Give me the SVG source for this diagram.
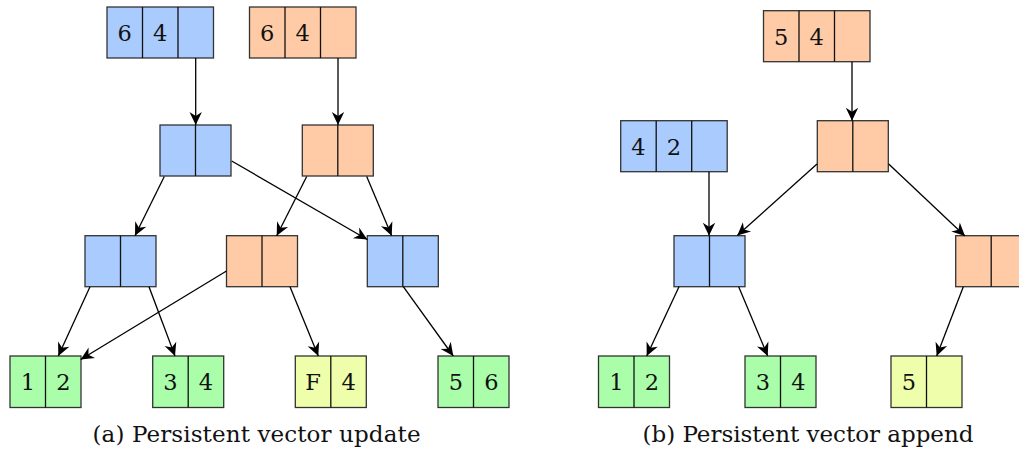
<svg xmlns="http://www.w3.org/2000/svg" width="1019" height="459" viewBox="0 0 1019 459">
<style>
.b{fill:#a9cbfe}.o{fill:#fecba6}.g{fill:#aafeaa}.y{fill:#eefeaa}
rect{stroke:#333;stroke-width:1.3}
.d{stroke:#111;stroke-width:1.3}
text{font-family:"DejaVu Serif","Liberation Serif",serif;font-size:22.5px;fill:#111;text-anchor:middle}
.e{fill:none;stroke:#000;stroke-width:1.3;marker-end:url(#ah)}
</style>
<defs>
<marker id="ah" markerUnits="userSpaceOnUse" markerWidth="16" markerHeight="14" viewBox="-14 -7 15 14" refX="0" refY="0" orient="auto">
<path d="M0,0 L-13,-6.2 L-9,0 L-13,6.2 Z" fill="#000"/>
</marker>
</defs>
<rect width="1019" height="459" fill="#fff" style="stroke:none"/>
<!-- Left panel -->
<g id="a_top_blue"><rect class="b" x="107" y="7" width="106.5" height="51"/><path class="d" d="M142.5,7V58M178,7V58"/><text x="124.7" y="40.8">6</text><text x="160.2" y="40.8">4</text></g>
<g id="a_top_orange"><rect class="o" x="249.5" y="7" width="106.5" height="51"/><path class="d" d="M285,7V58M320.5,7V58"/><text x="267.2" y="40.8">6</text><text x="302.7" y="40.8">4</text></g>
<g id="a_mid_blue"><rect class="b" x="160" y="125" width="71" height="51"/><path class="d" d="M195.5,125V176"/></g>
<g id="a_mid_orange"><rect class="o" x="302.3" y="125" width="71" height="51"/><path class="d" d="M337.8,125V176"/></g>
<g id="a_low_blue_l"><rect class="b" x="85" y="235.7" width="71" height="51"/><path class="d" d="M120.5,235.7V286.7"/></g>
<g id="a_low_orange"><rect class="o" x="226.5" y="235.7" width="71" height="51"/><path class="d" d="M262,235.7V286.7"/></g>
<g id="a_low_blue_r"><rect class="b" x="367.3" y="235.7" width="71" height="51"/><path class="d" d="M402.8,235.7V286.7"/></g>
<g id="a_leaf_12"><rect class="g" x="10" y="356" width="71" height="51.5"/><path class="d" d="M45.5,356V407.5"/><text x="27.8" y="390.3">1</text><text x="63.3" y="390.3">2</text></g>
<g id="a_leaf_34"><rect class="g" x="152.7" y="356" width="71" height="51.5"/><path class="d" d="M188.2,356V407.5"/><text x="170.5" y="390.3">3</text><text x="206" y="390.3">4</text></g>
<g id="a_leaf_F4"><rect class="y" x="295.3" y="356" width="71" height="51.5"/><path class="d" d="M330.8,356V407.5"/><text x="313.1" y="390.3">F</text><text x="348.6" y="390.3">4</text></g>
<g id="a_leaf_56"><rect class="g" x="438" y="356" width="71" height="51.5"/><path class="d" d="M473.5,356V407.5"/><text x="455.8" y="390.3">5</text><text x="491.3" y="390.3">6</text></g>
<!-- Right panel -->
<g id="b_top_orange"><rect class="o" x="763.5" y="10.7" width="106.5" height="51"/><path class="d" d="M799,10.7V61.7M834.5,10.7V61.7"/><text x="781.2" y="44.5">5</text><text x="816.7" y="44.5">4</text></g>
<g id="b_mid_orange"><rect class="o" x="817.3" y="120.7" width="71" height="51"/><path class="d" d="M852.8,120.7V171.7"/></g>
<g id="b_blue_42"><rect class="b" x="620.7" y="120.7" width="106.5" height="51"/><path class="d" d="M656.2,120.7V171.7M691.7,120.7V171.7"/><text x="638.4" y="154.5">4</text><text x="673.9" y="154.5">2</text></g>
<g id="b_low_blue"><rect class="b" x="674" y="235.7" width="71" height="51"/><path class="d" d="M709.5,235.7V286.7"/></g>
<g id="b_low_orange"><rect class="o" x="955.7" y="235.7" width="71" height="51"/><path class="d" d="M991.2,235.7V286.7"/></g>
<g id="b_leaf_12"><rect class="g" x="598.5" y="356" width="71" height="51.5"/><path class="d" d="M634,356V407.5"/><text x="616.3" y="390.3">1</text><text x="651.8" y="390.3">2</text></g>
<g id="b_leaf_34"><rect class="g" x="745" y="356" width="71" height="51.5"/><path class="d" d="M780.5,356V407.5"/><text x="762.8" y="390.3">3</text><text x="798.3" y="390.3">4</text></g>
<g id="b_leaf_5"><rect class="y" x="891" y="356" width="71" height="51.5"/><path class="d" d="M926.5,356V407.5"/><text x="908.8" y="390.3">5</text></g>
<g id="connectors">
<path class="e" d="M195.7,58L195.7,125"/>
<path class="e" d="M338,58L338,125"/>
<path class="e" d="M164.3,176.5L135,235.7"/>
<path class="e" d="M231.7,161L367.3,239.5"/>
<path class="e" d="M306.7,176.5L276.7,235.7"/>
<path class="e" d="M366.7,176.5L391.7,235.7"/>
<path class="e" d="M90,286.7L58.3,356"/>
<path class="e" d="M149,286.7L175,356"/>
<path class="e" d="M226.5,271L80.7,359.5"/>
<path class="e" d="M290,286.7L318.3,356"/>
<path class="e" d="M403.3,286.7L453.3,356"/>
<path class="e" d="M852,61.7L852,120.7"/>
<path class="e" d="M709,171.7L709,235.7"/>
<path class="e" d="M817,164L737.3,235.5"/>
<path class="e" d="M888.7,164L965,236"/>
<path class="e" d="M679,286.7L646.7,356"/>
<path class="e" d="M738.7,286.7L767.7,356"/>
<path class="e" d="M963.3,286.7L936.7,356"/>
</g>
<text x="256.5" y="441.5" style="font-size:23px" textLength="328" lengthAdjust="spacing">(a) Persistent vector update</text>
<text x="808" y="441.5" style="font-size:23px" textLength="331" lengthAdjust="spacing">(b) Persistent vector append</text>
</svg>
